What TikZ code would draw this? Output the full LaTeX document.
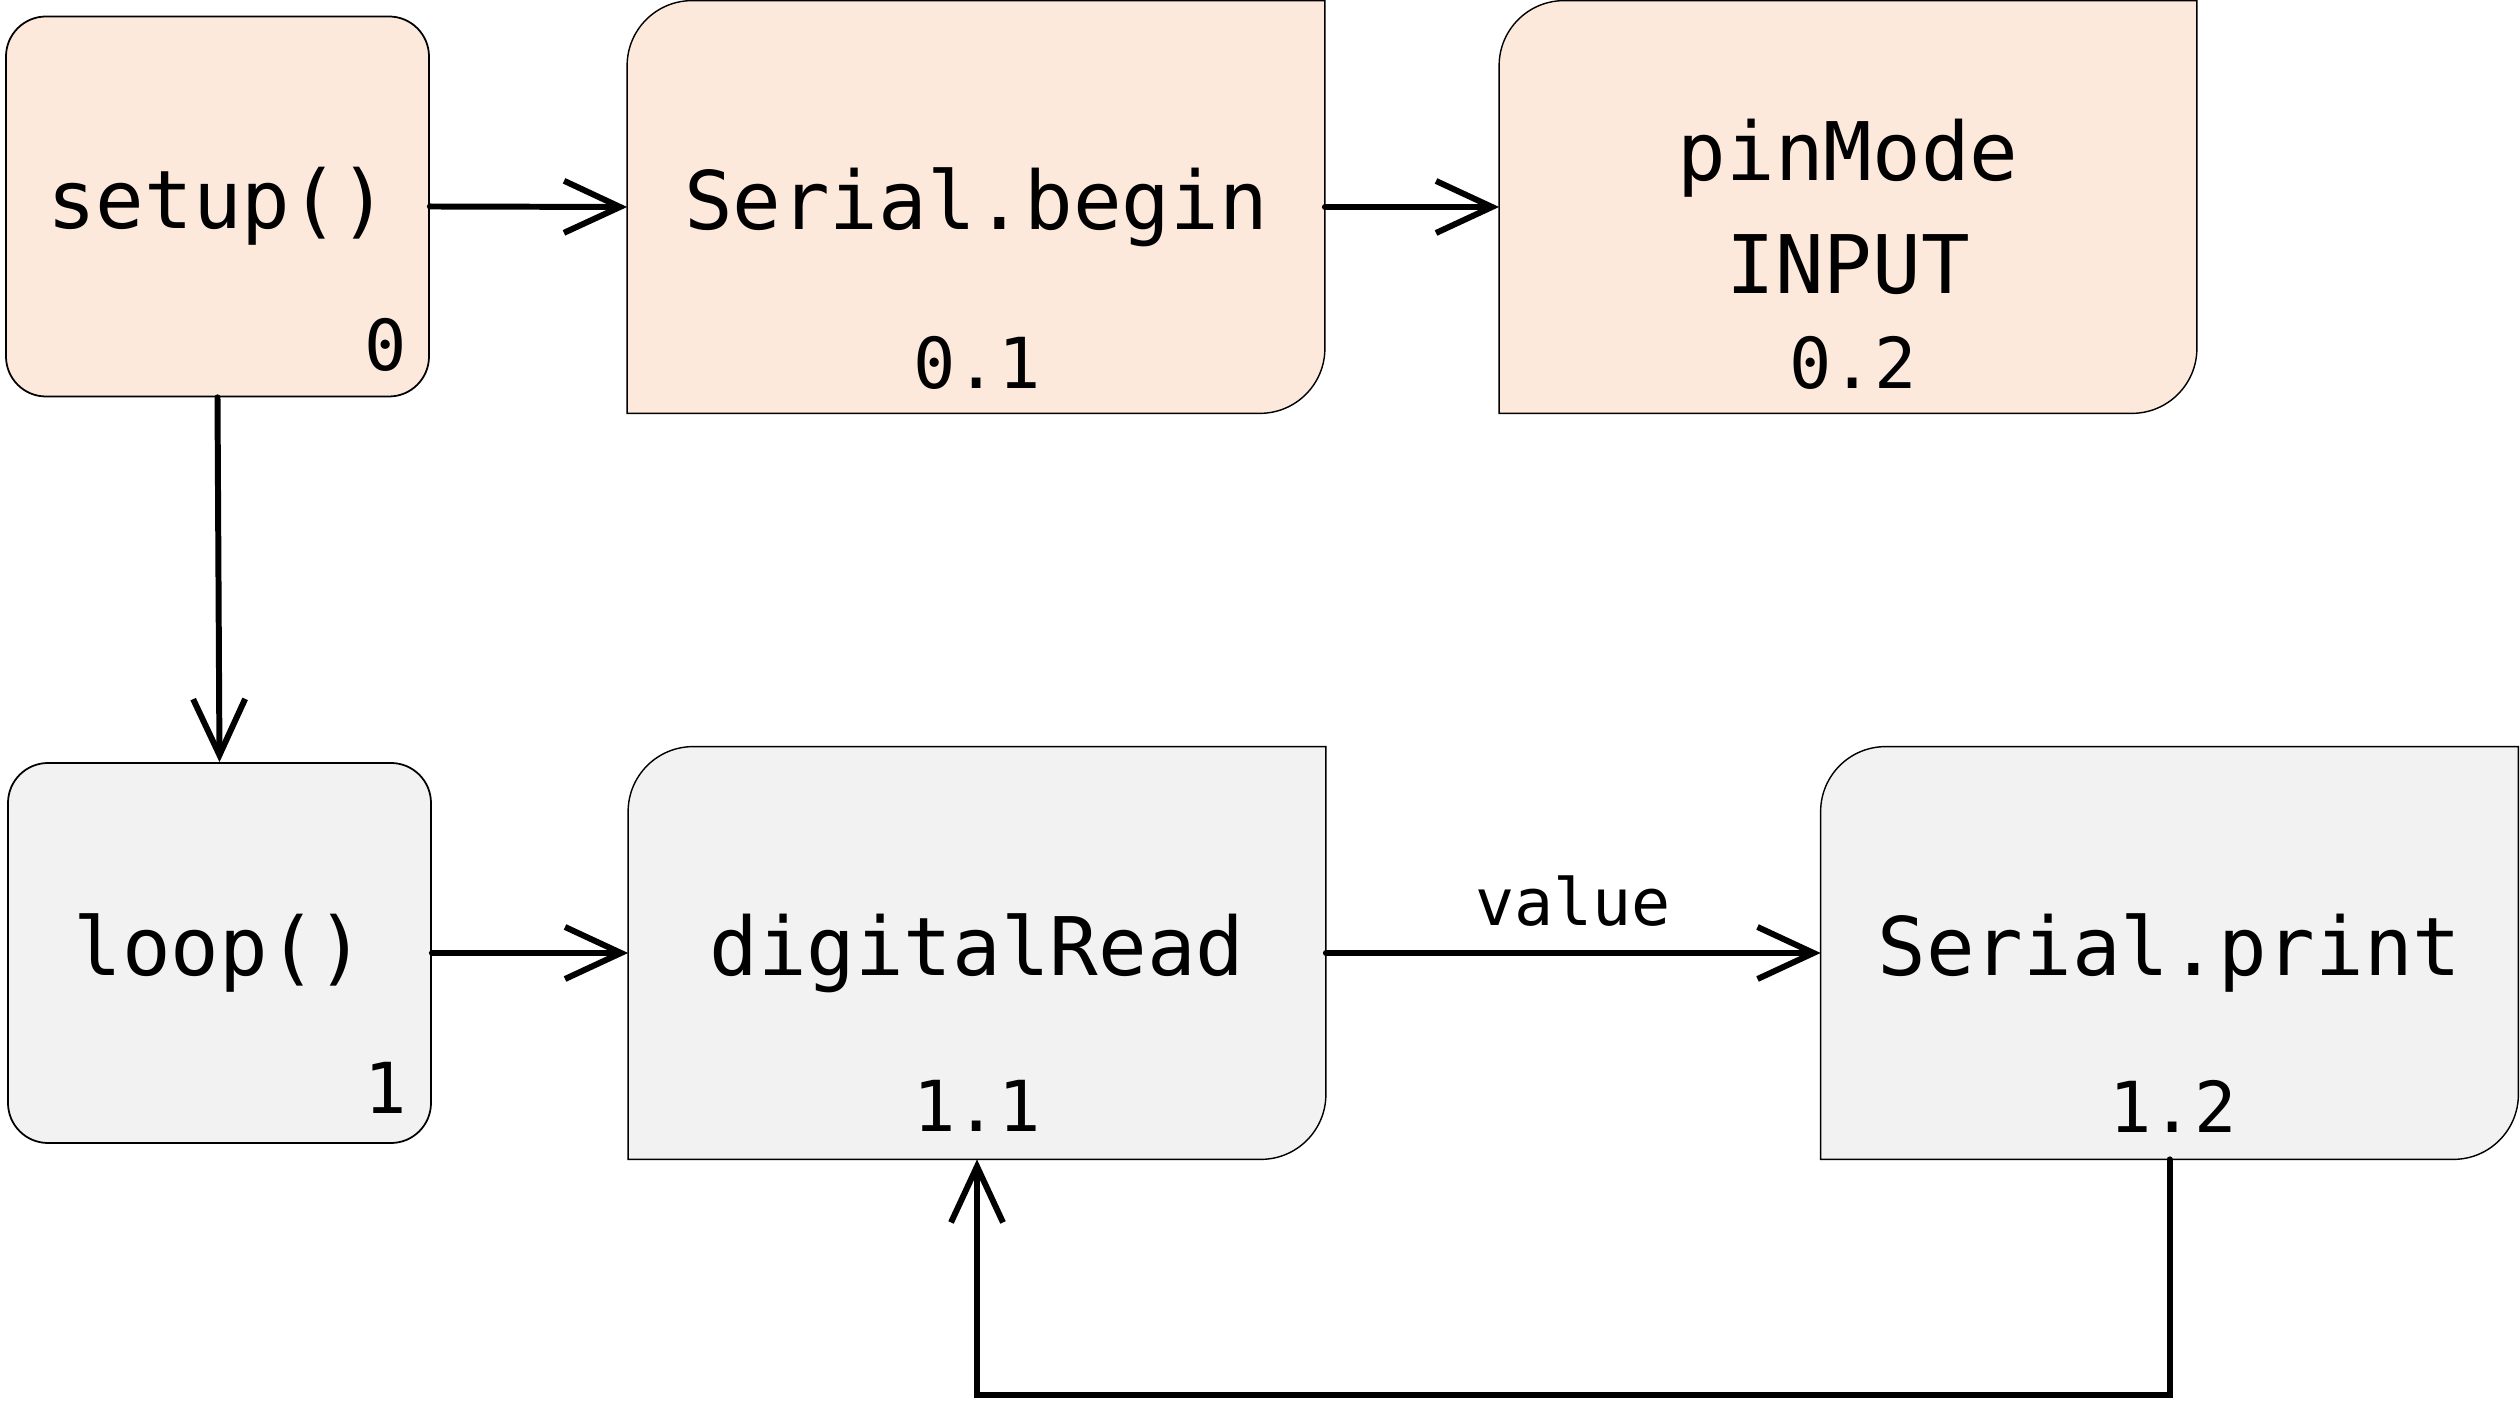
\documentclass[tikz,border=0pt]{standalone}
\usepackage{fontspec}
\usepackage{xcolor}
\usepackage{tikz}
\usetikzlibrary{arrows.meta,backgrounds}
\setmonofont{DejaVu Sans Mono}
\definecolor{setupfill}{HTML}{FCE9DC}
\definecolor{loopfill}{HTML}{F2F2F2}

\begin{document}
\begin{tikzpicture}[line width=0.5pt,
    fn/.style={font=\ttfamily\fontsize{23}{32}\selectfont, align=center, inner sep=0pt},
    num/.style={font=\ttfamily\fontsize{20}{24}\selectfont, inner sep=0pt},
    start/.style={fn, draw, rounded corners=0.4cm, minimum width=4.23cm, minimum height=3.8cm},
    card/.style={fn, minimum width=6.96cm, minimum height=4.11cm},
    arr/.style={line width=1.7pt, line cap=round,
                -{Straight Barb[length=5.6mm, width=5.2mm, line width=1.7pt]}}]

  \useasboundingbox (0,0) rectangle (25.2,14);

  % -- setup() and what it calls ------------------------------------------
  \node[start, fill=setupfill] (setup)   at (2.175,11.935) {setup()};
  \node[card]                  (sbegin)  at (9.76,11.93)   {Serial.begin};
  \node[card]                  (pinmode) at (18.48,11.93)  {pinMode\\INPUT};

  % -- loop() and what it calls --------------------------------------------
  \node[start, fill=loopfill]  (loop)    at (2.195,4.47)   {loop()};
  \node[card]                  (dread)   at (9.77,4.47)    {digitalRead};
  \node[card]                  (sprint)  at (21.695,4.47)  {Serial.print};

  % -- step numbers ----------------------------------------------------------
  \node[num] (setupnum)   at (3.86,10.55)  {0};
  \node[num] (sbeginnum)  at (9.77,10.37)  {0.1};
  \node[num] (pinmodenum) at (18.53,10.37) {0.2};
  \node[num] (loopnum)    at (3.86,3.12)   {1};
  \node[num] (dreadnum)   at (9.77,2.94)   {1.1};
  \node[num] (sprintnum)  at (21.73,2.94)  {1.2};

  % -- the cards: round only top left and bottom right ----------------------
  \begin{scope}[on background layer]
    \foreach \b/\cc in {sbegin/setupfill, pinmode/setupfill,
                        dread/loopfill, sprint/loopfill}{
      \draw[fill=\cc] (\b.south west) -- ([yshift=-6.5mm]\b.north west)
        arc[start angle=180, end angle=90, radius=6.5mm] -- (\b.north east)
        -- ([yshift=6.5mm]\b.south east)
        arc[start angle=0, end angle=-90, radius=6.5mm] -- cycle;}
  \end{scope}

  % -- arrows ----------------------------------------------------------------
  \draw[arr] (setup.east)  -- (sbegin.west);
  \draw[arr] (sbegin.east) -- (pinmode.west);
  \draw[arr] (setup.south) -- (loop.north);
  \draw[arr] (loop.east)   -- (dread.west);
  \draw[arr] (dread.east)  -- node[above=2.4mm, inner sep=0pt,
      font=\ttfamily\fontsize{18.5}{22}\selectfont] (valuelbl) {value} (sprint.west);
  \draw[arr] (sprint.south) -- ++(0,-2.36) -| (dread.south);

\end{tikzpicture}
\end{document}
